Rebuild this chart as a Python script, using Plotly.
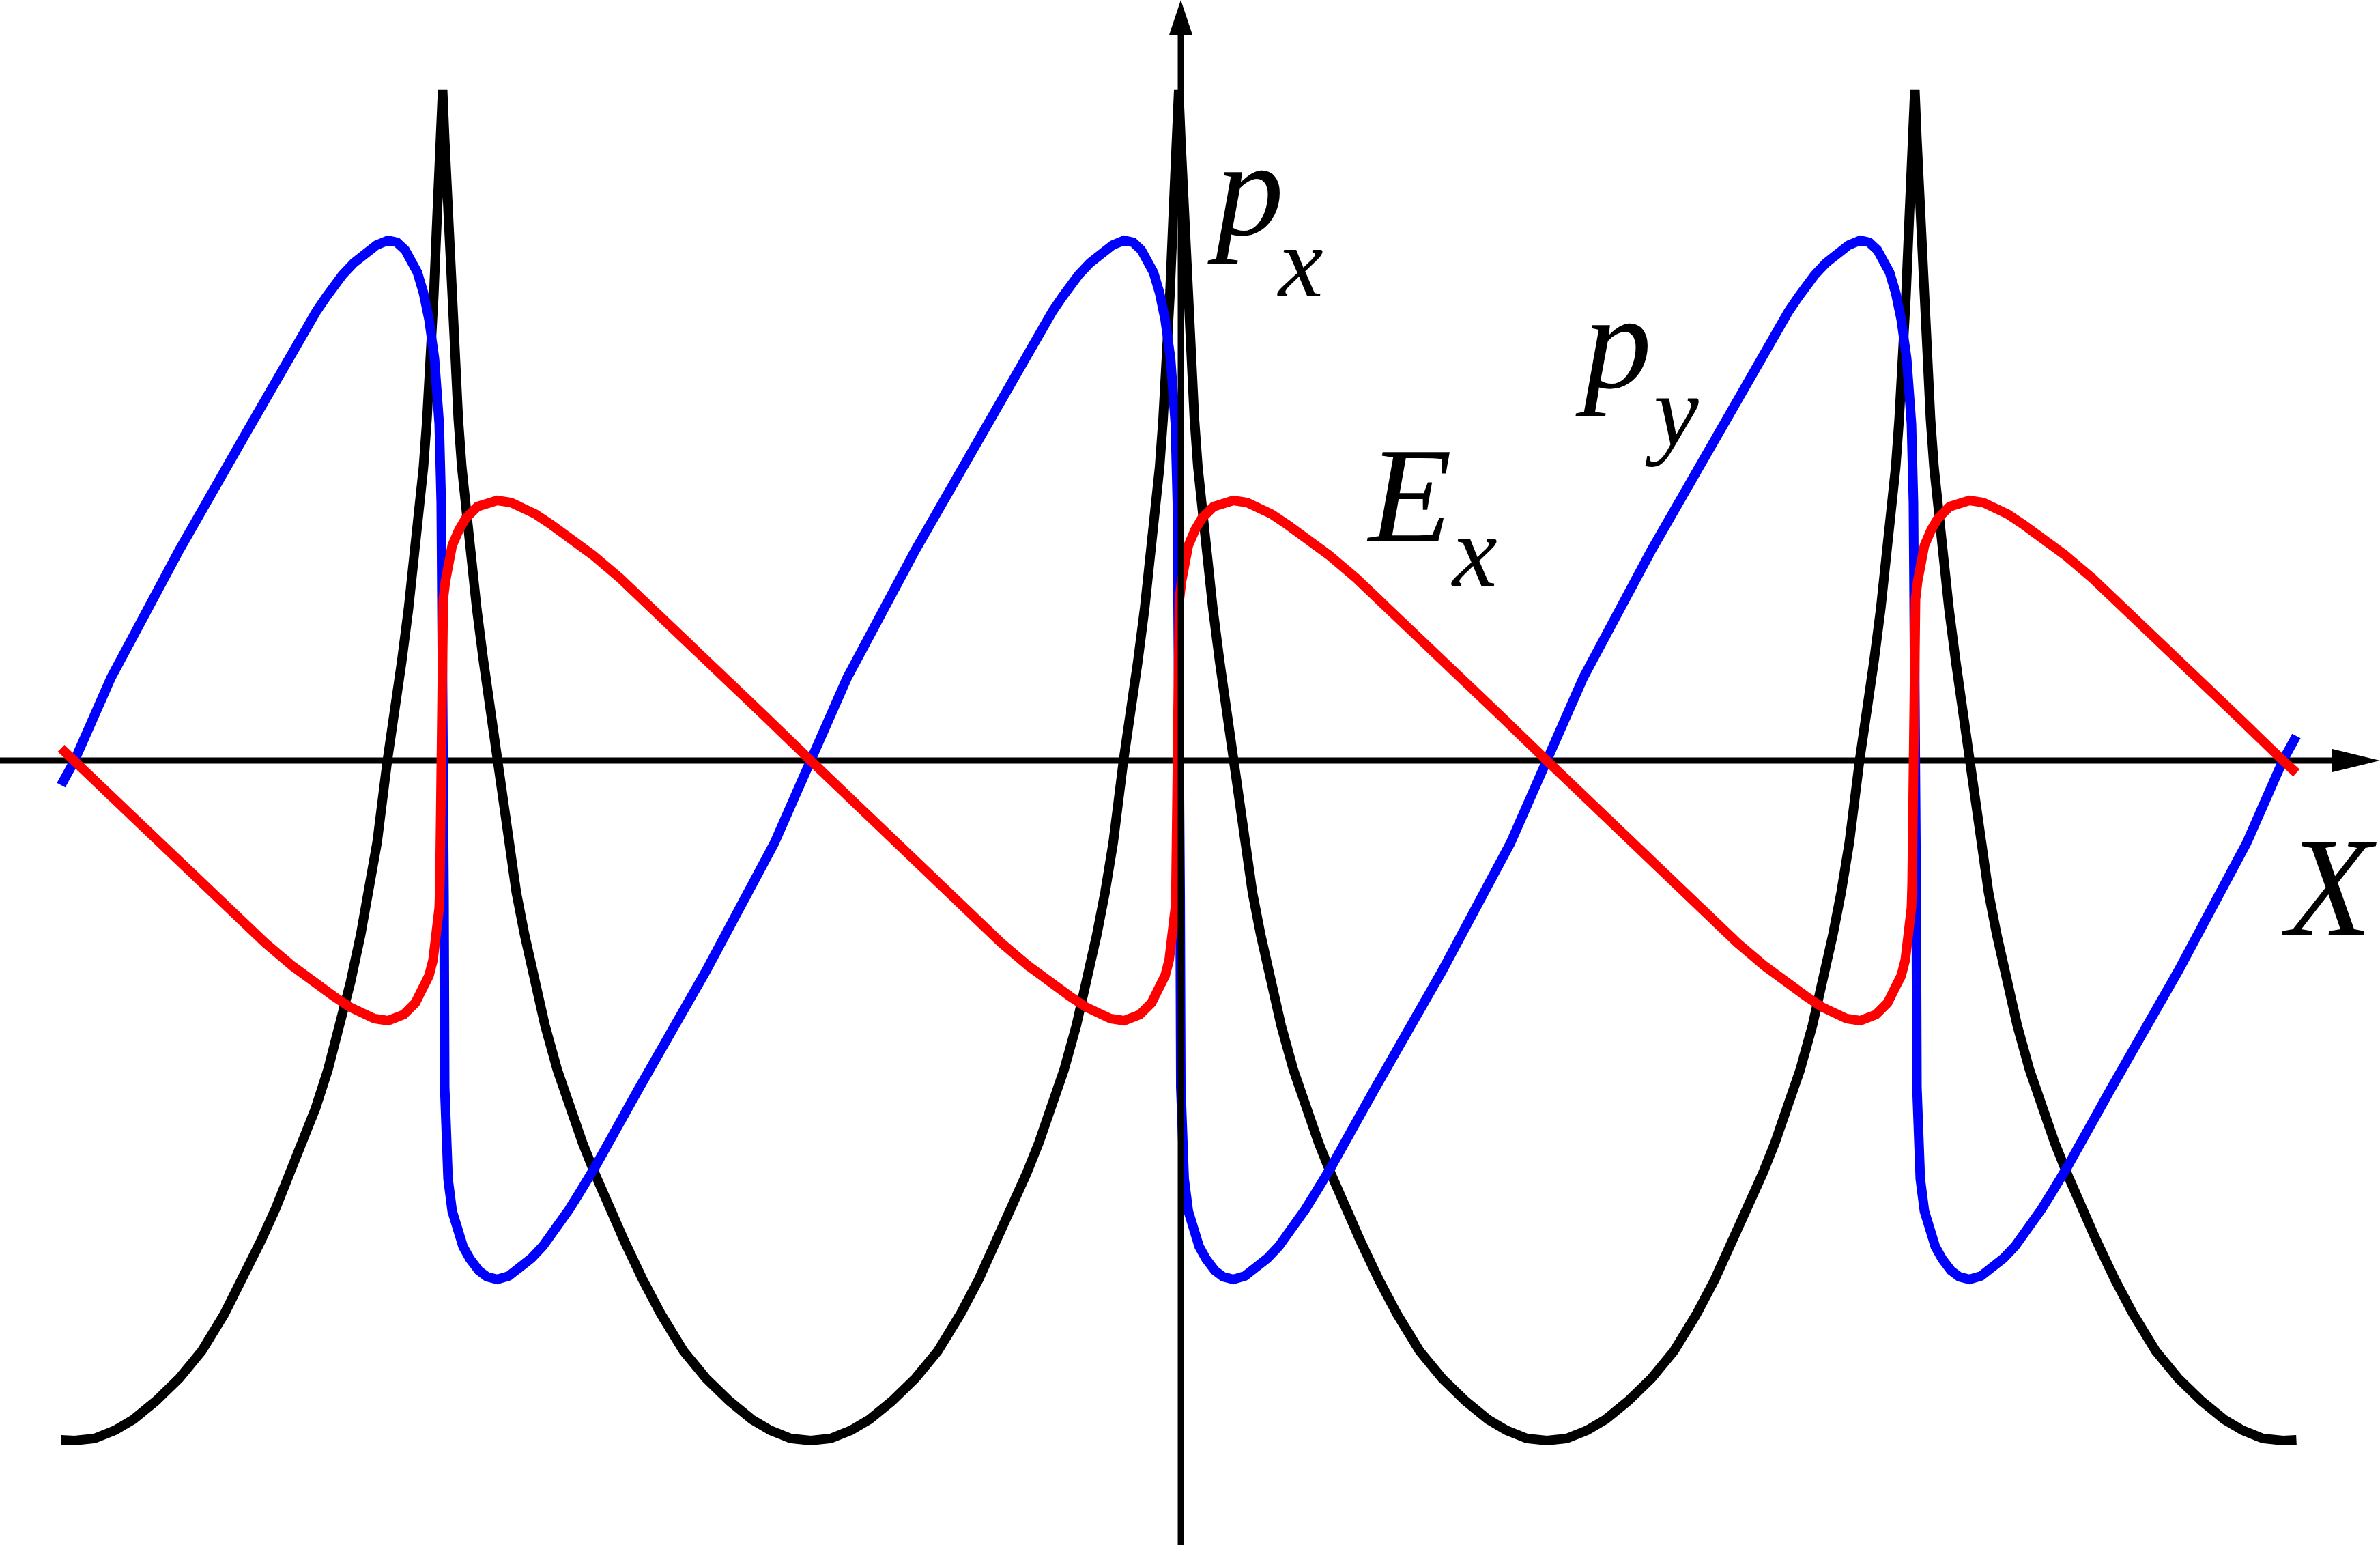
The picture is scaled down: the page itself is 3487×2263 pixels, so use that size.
import plotly.graph_objects as go

# ---------------- data ----------------
# x in units of the wave period, cusp of each period at its centre
PERIOD_CENTERS = [-1.0, 0.0, 1.0]

# p_x (black), one period
PX_PHASE = [-0.5183, -0.5, -0.4729, -0.4451, -0.4200, -0.3894, -0.3579, -0.3273, -0.2967,
            -0.2717, -0.2466, -0.2272, -0.2068, -0.1901, -0.1725, -0.1558, -0.1391, -0.1252,
            -0.1113, -0.1001, -0.0890, -0.0751, -0.0649, -0.0556, -0.0464, -0.0371, -0.0315,
            -0.0260, -0.0213, -0.0167, -0.0121, -0.0074, -0.0028,
            0.0,
            0.0028, 0.0074, 0.0121, 0.0167, 0.0213, 0.0260, 0.0315, 0.0371, 0.0464,
            0.0556, 0.0649, 0.0751, 0.0890, 0.1001, 0.1113, 0.1252, 0.1391, 0.1558,
            0.1725, 0.1901, 0.2068, 0.2272, 0.2466, 0.2717, 0.2967, 0.3273, 0.3579,
            0.3894, 0.4200, 0.4451, 0.4729, 0.5, 0.5183]
PX_VALUE = [-0.995, -0.996, -0.993, -0.981, -0.965, -0.938, -0.905, -0.865, -0.811,
            -0.760, -0.703, -0.657, -0.605, -0.560, -0.509, -0.453, -0.388, -0.325,
            -0.255, -0.193, -0.120, 0.0, 0.070, 0.145, 0.222, 0.310, 0.370,
            0.430, 0.500, 0.575, 0.680, 0.800, 0.910,
            0.982,
            0.910, 0.800, 0.680, 0.575, 0.500, 0.430, 0.370, 0.310, 0.222,
            0.145, 0.070, 0.0, -0.120, -0.193, -0.255, -0.325, -0.388, -0.453,
            -0.509, -0.560, -0.605, -0.657, -0.703, -0.760, -0.811, -0.865, -0.905,
            -0.938, -0.965, -0.981, -0.993, -0.996, -0.995]

# p_y (blue), one period
PY_PHASE = [-0.5183, -0.5, -0.4506, -0.3579, -0.2652, -0.2068, -0.1854, -0.1715, -0.1576,
            -0.1465, -0.1363, -0.1205, -0.1057, -0.0899, -0.0742, -0.0621, -0.0510, -0.0427,
            -0.0343, -0.0260, -0.0185, -0.0111, -0.0046, -0.0019, 0.0, 0.0009, 0.0019,
            0.0028, 0.0046, 0.0074, 0.0130, 0.0213, 0.0278, 0.0371, 0.0491, 0.0603,
            0.0742, 0.0899, 0.1057, 0.1205, 0.1363, 0.1465, 0.1576, 0.1715, 0.1854,
            0.2068, 0.2652, 0.3579, 0.4506, 0.5, 0.5183]
PY_VALUE = [-0.036, 0.0, 0.121, 0.308, 0.483, 0.596, 0.634, 0.658, 0.680,
            0.697, 0.711, 0.729, 0.743, 0.755, 0.762, 0.759, 0.748, 0.734,
            0.715, 0.685, 0.646, 0.589, 0.493, 0.378, 0.200, 0.0, -0.200,
            -0.478, -0.550, -0.613, -0.660, -0.695, -0.712, -0.730, -0.747, -0.756,
            -0.760, -0.755, -0.743, -0.729, -0.711, -0.697, -0.680, -0.658, -0.634,
            -0.596, -0.483, -0.308, -0.121, 0.0, 0.036]

# E_x (red), one period
EX_PHASE = [-0.5183, -0.5, -0.4358, -0.3579, -0.2809, -0.2411, -0.2040, -0.1762, -0.1483,
            -0.1261, -0.1113, -0.0927, -0.0742, -0.0529, -0.0371, -0.0278, -0.0185, -0.0130,
            -0.0093, -0.0065, -0.0046, -0.0037, -0.0032, -0.0028, -0.0023, -0.0019, -0.0009,
            0.0009, 0.0037, 0.0074, 0.0130, 0.0223, 0.0315, 0.0473, 0.0742, 0.0927,
            0.1113, 0.1261, 0.1483, 0.1762, 0.2040, 0.2411, 0.2809, 0.3579, 0.4358,
            0.5, 0.5183]
EX_VALUE = [0.018, 0.0, -0.067, -0.147, -0.227, -0.267, -0.301, -0.324, -0.345,
            -0.361, -0.370, -0.378, -0.381, -0.372, -0.355, -0.338, -0.315, -0.292,
            -0.262, -0.236, -0.215, -0.180, -0.100, 0.0, 0.100, 0.180, 0.215,
            0.236, 0.262, 0.292, 0.315, 0.338, 0.355, 0.372, 0.381, 0.378,
            0.370, 0.361, 0.345, 0.324, 0.301, 0.267, 0.227, 0.147, 0.067,
            0.0, -0.018]

# ---------------- layout constants ----------------
W, H = 3487, 2263
X_RANGE = [-1.6013, 1.6319]
Y_RANGE = [-1.149, 1.114]
Y_AXIS_X = 0.0028
CURVE_WIDTH = 14
AXIS_WIDTH = 9
FONT = "Liberation Serif"


def tile(phase, values):
    xs, ys = [], []
    n = len(PERIOD_CENTERS)
    for i, c in enumerate(PERIOD_CENTERS):
        for p, v in zip(phase, values):
            if i > 0 and p <= -0.5:
                continue
            if i < n - 1 and p > 0.5:
                continue
            xs.append(c + p)
            ys.append(v)
    return xs, ys


fig = go.Figure()
for (phase, vals, color, name) in [
    (PX_PHASE, PX_VALUE, "#000000", "p_x"),
    (PY_PHASE, PY_VALUE, "#0000ff", "p_y"),
    (EX_PHASE, EX_VALUE, "#ff0000", "E_x"),
]:
    xs, ys = tile(phase, vals)
    fig.add_trace(go.Scatter(x=xs, y=ys, mode="lines", name=name,
                             line=dict(color=color, width=CURVE_WIDTH),
                             hoverinfo="skip", showlegend=False))

# axes with arrowheads (horizontal axis under the curves, vertical axis over them)
shapes = [
    dict(type="line", xref="x", yref="y", x0=X_RANGE[0], x1=X_RANGE[1] - 0.06,
         y0=0, y1=0, line=dict(color="black", width=AXIS_WIDTH), layer="below"),
    dict(type="path", xref="x", yref="y", xsizemode="pixel", ysizemode="pixel",
         xanchor=X_RANGE[1], yanchor=0, path="M0,0 L-70,17 L-70,-17 Z",
         fillcolor="black", line=dict(width=0), layer="below"),
    dict(type="line", xref="x", yref="y", x0=Y_AXIS_X, x1=Y_AXIS_X,
         y0=Y_RANGE[0], y1=Y_RANGE[1] - 0.045, line=dict(color="black", width=AXIS_WIDTH),
         layer="above"),
    dict(type="path", xref="x", yref="y", xsizemode="pixel", ysizemode="pixel",
         xanchor=Y_AXIS_X, yanchor=Y_RANGE[1], path="M0,0 L-17,-51 L17,-51 Z",
         fillcolor="black", line=dict(width=0), layer="above"),
]

# labels: (text, x of box left, y of box top, font size)
LABELS = [
    ("p", 0.0380, 0.949, 200),
    ("x", 0.1326, 0.813, 148),
    ("E", 0.2541, 0.500, 200),
    ("x", 0.3690, 0.389, 148),
    ("p", 0.5380, 0.725, 200),
    ("y", 0.6320, 0.595, 148),
    ("X", 1.4974, -0.071, 205),
]
annotations = [
    dict(text="<i>%s</i>" % t, x=x, y=y, xref="x", yref="y", xanchor="left",
         yanchor="top", showarrow=False, borderpad=0,
         font=dict(family=FONT, size=s, color="black"))
    for (t, x, y, s) in LABELS
]

fig.update_layout(
    width=W, height=H,
    margin=dict(l=0, r=0, t=0, b=0, pad=0),
    paper_bgcolor="white", plot_bgcolor="white",
    xaxis=dict(range=X_RANGE, visible=False, fixedrange=True),
    yaxis=dict(range=Y_RANGE, visible=False, fixedrange=True),
    shapes=shapes, annotations=annotations,
    hovermode=False,
)

fig.write_html("out.html", config={"displayModeBar": False},
               post_script="document.body.style.margin='0';document.body.style.overflow='hidden';")
